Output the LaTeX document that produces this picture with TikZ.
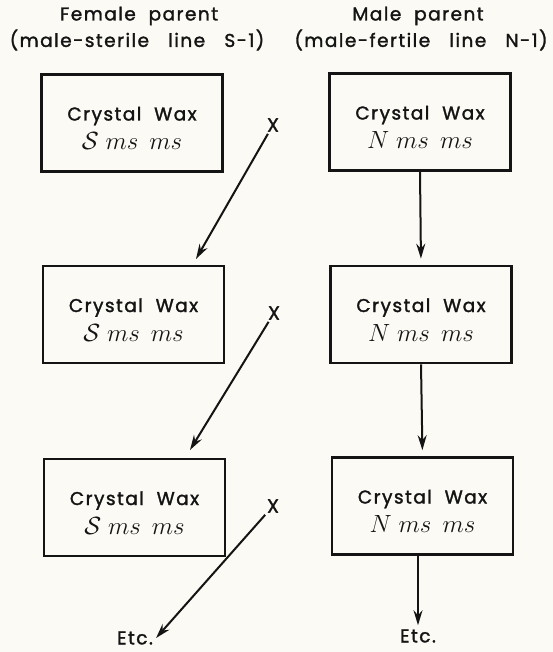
\documentclass[tikz,border=0pt]{standalone}
\usepackage{fontspec}
\setmainfont{Poppins}[LetterSpace=8, FakeBold=1.6]
\usetikzlibrary{arrows.meta}
\definecolor{paper}{RGB}{251,250,245}
\definecolor{ink}{RGB}{20,20,20}
\tikzset{
  wbox/.style={draw=ink, line width=2.7pt, minimum width=181pt, minimum height=97pt,
    align=center, inner sep=0pt, font=\fontsize{18.5}{29}\selectfont, text=ink},
  hdr/.style={font=\fontsize{18.5}{20}\selectfont, text=ink, inner sep=0pt},
  xlab/.style={font=\fontsize{19}{20}\selectfont, text=ink, inner sep=2pt},
  arr/.style={draw=ink, line width=2pt, -{Stealth[length=15pt,width=9pt,inset=5pt]}}
}
\newcommand{\cw}{\rule{0pt}{24pt}Crystal\ \ Wax}
\newcommand{\gS}{\fontsize{25}{29}\selectfont$\mathcal{S}\;ms\;\,ms$}
\newcommand{\gN}{\fontsize{25}{29}\selectfont$N\;ms\;\,ms$}
\begin{document}
\begin{tikzpicture}[x=1pt,y=-1pt]
\fill[paper] (0,0) rectangle (553,652);
\useasboundingbox (0,0) rectangle (553,652);
% headers
\node[hdr] (h1) at (139,16) {Female\ \ parent};
\node[hdr] (h2) at (137,40) {(male-sterile\ \ \ line\ \ \ S-1)};
\node[hdr] (h3) at (418,16) {Male\ \ parent};
\node[hdr] (h4) at (421,40) {(male-fertile\ \ \ line\ \ \ N-1)};
% left column
\node[wbox] (b1) at (132,123) {\cw\\ \gS};
\node[wbox] (b2) at (133.5,314.5) {\cw\\ \gS};
\node[wbox] (b3) at (134.5,507.5) {\cw\\ \gS};
% right column
\node[wbox] (r1) at (420,122) {\cw\\ \gN};
\node[wbox] (r2) at (421,314.5) {\cw\\ \gN};
\node[wbox] (r3) at (422.5,506) {\cw\\ \gN};
% crosses
\node[xlab] (x1) at (273,125) {X};
\node[xlab] (x2) at (274,313) {X};
\node[xlab] (x3) at (273,506) {X};
\node[hdr] (e1) at (135,638) {Etc.};
\node[hdr] (e2) at (418,636) {Etc.};
\coordinate (t1) at (196,259);
\coordinate (t2) at (190,450);
% arrows
\draw[arr] (x1) -- (t1);
\draw[arr] (x2) -- (t2);
\draw[arr] (x3) -- ([xshift=3pt]e1.east);
\draw[arr, shorten >=6pt] (r1.south) -- (r2.north);
\draw[arr, shorten >=6pt] (r2.south) -- (r3.north);
\draw[arr, shorten >=4pt] (r3.south -| e2) -- (e2.north);
\end{tikzpicture}
\end{document}
